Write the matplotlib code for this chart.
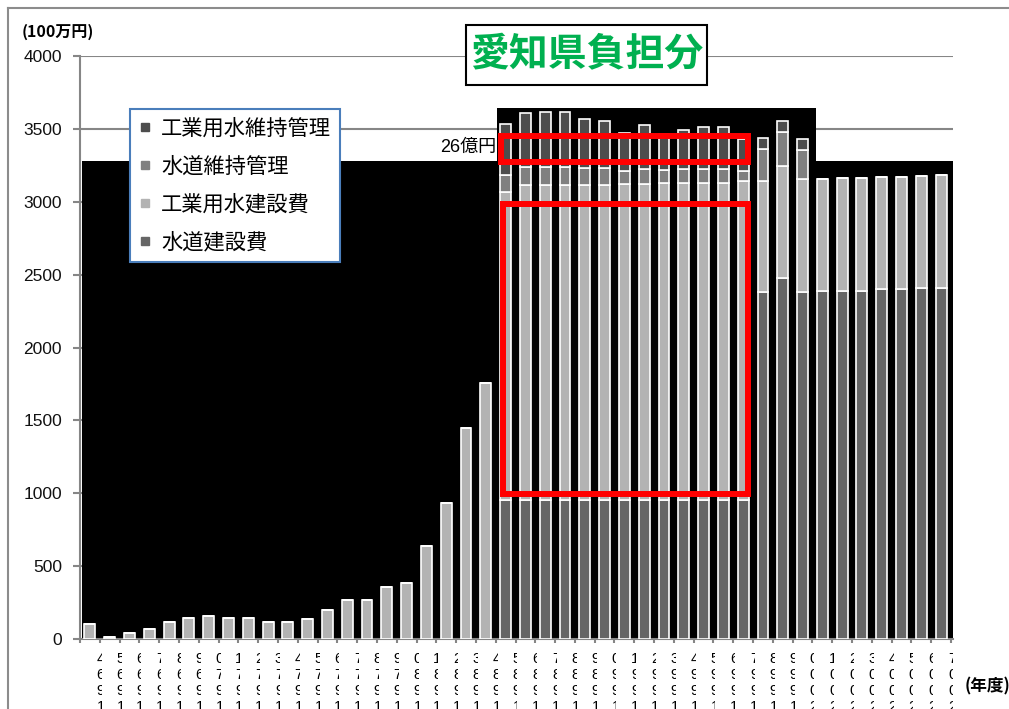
import numpy as np
import matplotlib

matplotlib.use("Agg")
import matplotlib.pyplot as plt
from matplotlib.lines import Line2D
from matplotlib.patches import Polygon, Rectangle
from matplotlib.transforms import blended_transform_factory

plt.rcParams["font.family"] = ["Liberation Sans", "Noto Sans CJK JP"]

W, H = 1009, 709

years = list(range(1964, 2008))

# 単位: 100万円
suido_kensetsu = [0] * 21 + [955] * 13 + [
    2379, 2479, 2379, 2388, 2388, 2388, 2401, 2401, 2406, 2406,
]
kougyo_kensetsu = [
    103, 16, 41, 71, 117, 146, 156, 142, 142, 117,
    117, 139, 199, 268, 268, 357, 386, 638, 931, 1450, 1758,
    2110, 2160, 2160, 2160, 2160, 2160, 2170, 2170, 2175, 2175, 2175, 2175, 2185,
    763, 769, 775, 766, 773, 773, 769, 769, 771, 777,
]
suido_iji = [0] * 21 + [
    118, 125, 125, 125, 118, 118, 84, 103, 89, 98, 98, 98, 71,
    220, 228, 203,
] + [0] * 7
kougyo_iji = [0] * 21 + [
    350, 371, 378, 378, 337, 323, 263, 302, 247, 263, 282, 282, 217,
    78, 80, 76,
] + [0] * 7

series = [
    ("水道建設費", suido_kensetsu, "#666666"),
    ("工業用水建設費", kougyo_kensetsu, "#b3b3b3"),
    ("水道維持管理", suido_iji, "#808080"),
    ("工業用水維持管理", kougyo_iji, "#4d4d4d"),
]
legend_order = ["工業用水維持管理", "水道維持管理", "工業用水建設費", "水道建設費"]


def fx(x):
    return x / W


def fy(y):
    return 1 - y / H


fig = plt.figure(figsize=(W / 100, H / 100), dpi=100)
ax = fig.add_axes([fx(80), fy(639), fx(953) - fx(80), fy(56) - fy(639)])

# 黒い背景部分
shade = Polygon(
    [(fx(82), fy(638)), (fx(82), fy(161)), (fx(497), fy(161)), (fx(497), fy(108)),
     (fx(816), fy(108)), (fx(816), fy(161)), (fx(953), fy(161)), (fx(953), fy(638))],
    closed=True, facecolor="black", edgecolor="none",
    transform=fig.transFigure, zorder=1.5, clip_on=False,
)
ax.add_artist(shade)

x = np.arange(len(years))
bottom = np.zeros(len(years))
handles = {}
for name, values, color in series:
    vals = np.array(values, dtype=float)
    ax.bar(x, vals, width=0.55, bottom=bottom, color=color,
           edgecolor="white", linewidth=1.2, zorder=3)
    bottom += vals
    handles[name] = Line2D([], [], marker="s", linestyle="none",
                           markersize=6, color=color)

ax.set_xlim(-0.5, 43.6)
ax.set_ylim(0, 4000)
ax.set_yticks(np.arange(0, 4001, 500))
ax.set_xticks(np.arange(-0.5, len(years), 1))
ax.set_xticklabels([])
ax.yaxis.grid(True, color="#868686", linewidth=1.5)
ax.set_axisbelow(True)
for side in ("top", "right"):
    ax.spines[side].set_visible(False)
for side in ("left", "bottom"):
    ax.spines[side].set_color("#868686")
    ax.spines[side].set_linewidth(1.5)
ax.tick_params(axis="y", length=5, width=1.5, color="#868686", pad=8,
               labelsize=12.5, labelcolor="#111111")
ax.tick_params(axis="x", length=3, width=1.5, color="#868686")

leg = ax.legend(
    [handles[n] for n in legend_order], legend_order,
    loc="upper left", bbox_to_anchor=(fx(130), fy(109)),
    bbox_transform=fig.transFigure, borderaxespad=0,
    frameon=True, fancybox=False, framealpha=1, edgecolor="#4a7ebb",
    prop={"family": "Noto Sans CJK JP", "size": 15.3},
    handlelength=0.55, handletextpad=0.5, labelspacing=0.74,
    borderpad=0.42,
)
leg.get_frame().set_linewidth(1.5)
leg.set_zorder(10)

# 年度ラベル（縦積み、右半分が欠けている）
blend = blended_transform_factory(ax.transData, fig.transFigure)
for i, yr in enumerate(years):
    cx = i + 0.55
    fig.text(cx, fy(652), "\n".join(reversed(str(yr))), transform=blend,
             ha="center", va="top", fontsize=10.5, linespacing=1.18,
             multialignment="center", zorder=3)
    fig.add_artist(Rectangle((cx + 0.05, 0), 0.6, fy(648), transform=blend,
                             facecolor="white", edgecolor="none", zorder=4))

fig.text(fx(22), fy(32), "(100万円)", ha="left", va="center", fontsize=11.5,
         fontweight="bold", family="Noto Sans CJK JP")
fig.text(fx(965), fy(686), "(年度)", ha="left", va="center", fontsize=12,
         fontweight="bold", family="Noto Sans CJK JP", zorder=5)
fig.text(fx(496), fy(147), "26億円", ha="right", va="center", fontsize=13)

# タイトル枠
fig.add_artist(Rectangle((fx(466), fy(85)), fx(707) - fx(466), fy(25) - fy(85),
                         transform=fig.transFigure, facecolor="white",
                         edgecolor="black", linewidth=1.5, zorder=5))
fig.text(fx(586.5), fy(55), "愛知県負担分", ha="center", va="center",
         fontsize=28, fontweight="bold", color="#00b050",
         family="Noto Sans CJK JP", zorder=6)

# 赤枠
for x0, y0, x1, y1 in [(501, 136, 748, 162), (503, 204, 748, 494)]:
    fig.add_artist(Rectangle((fx(x0), fy(y1)), fx(x1) - fx(x0), fy(y0) - fy(y1),
                             transform=fig.transFigure, facecolor="none",
                             edgecolor="#ff0000", linewidth=4.3, zorder=8))

# 外枠
fig.add_artist(Line2D([fx(8), fx(8)], [fy(8), 0], color="#8c8c8c", linewidth=1.5))
fig.add_artist(Line2D([fx(8), 1], [fy(8), fy(8)], color="#8c8c8c", linewidth=1.5))

fig.savefig("out.png", dpi=100)
